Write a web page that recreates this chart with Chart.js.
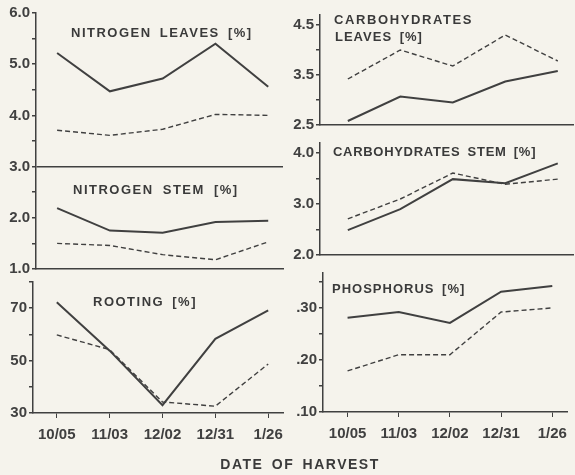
<!DOCTYPE html>
<html>
<head>
<meta charset="utf-8">
<script src="https://cdn.jsdelivr.net/npm/chart.js@4.4.1/dist/chart.umd.min.js"></script>
<style>
  html, body { margin: 0; padding: 0; background: #f5f3ec; }
  #page { position: relative; width: 575px; height: 475px; overflow: hidden; }
  #page canvas { position: absolute; left: 0; top: 0; }
  .lbl {
    position: absolute;
    font: bold 13px "Liberation Sans", Arial, sans-serif;
    line-height: 1;
    color: #3a3a3a;
    letter-spacing: 1px;
    word-spacing: 3px;
    white-space: nowrap;
  }
</style>
</head>
<body>
<div id="page">
  <canvas id="nitro" width="575" height="475"></canvas>
  <canvas id="root" width="575" height="475"></canvas>
  <canvas id="carbLeaf" width="575" height="475"></canvas>
  <canvas id="carbStem" width="575" height="475"></canvas>
  <canvas id="phos" width="575" height="475"></canvas>

  <div class="lbl" style="left:71px;top:26px;letter-spacing:1.5px">NITROGEN LEAVES [%]</div>
  <div class="lbl" style="left:73px;top:183px;letter-spacing:1.5px;word-spacing:4px">NITROGEN STEM [%]</div>
  <div class="lbl" style="left:93px;top:295px;letter-spacing:1.5px">ROOTING [%]</div>
  <div class="lbl" style="left:334px;top:13px;letter-spacing:1.6px">CARBOHYDRATES</div>
  <div class="lbl" style="left:335px;top:30px">LEAVES [%]</div>
  <div class="lbl" style="left:333px;top:145px;letter-spacing:0.7px">CARBOHYDRATES STEM [%]</div>
  <div class="lbl" style="left:332px;top:282px">PHOSPHORUS [%]</div>
  <div class="lbl" style="left:200px;top:457px;width:200px;text-align:center;font-size:14px;letter-spacing:1.5px">DATE OF HARVEST</div>
</div>

<script>
/* ============================================
   DATA
============================================ */
const dates = ['10/05', '11/03', '12/02', '12/31', '1/26'];

const nLeavesSolid  = [5.22, 4.47, 4.72, 5.40, 4.56];
const nLeavesDashed = [3.71, 3.61, 3.73, 4.02, 4.00];
const nStemSolid    = [2.19, 1.75, 1.71, 1.92, 1.94];
const nStemDashed   = [1.50, 1.46, 1.28, 1.18, 1.53];

const rootSolid  = [72.3, 53.8, 33.0, 58.3, 69.2];
const rootDashed = [59.8, 54.2, 34.2, 32.6, 48.7];

const carbLeafSolid  = [2.58, 3.07, 2.95, 3.37, 3.58];
const carbLeafDashed = [3.42, 4.00, 3.68, 4.30, 3.78];

const carbStemSolid  = [2.49, 2.90, 3.49, 3.41, 3.80];
const carbStemDashed = [2.71, 3.10, 3.61, 3.39, 3.49];

const phosSolid  = [0.281, 0.292, 0.271, 0.331, 0.342];
const phosDashed = [0.179, 0.210, 0.210, 0.292, 0.300];

const nitroTickLabels    = [1, 2, 3, 4, 5, 6];
const rootTickLabels     = [30, 50, 70];
const carbLeafTickLabels = [2.5, 3.5, 4.5];
const carbStemTickLabels = [2, 3, 4];
const phosTickLabels     = [0.1, 0.2, 0.3];

/* ============================================
   HELPERS
============================================ */
const INK = '#404040';
const FONT = "'Liberation Sans', Arial, sans-serif";

function solid(values) {
    return {
        data: values.map((v, i) => ({ x: i, y: v })),
        borderColor: INK,
        borderWidth: 2,
        pointRadius: 0,
        tension: 0
    };
}

function dashed(values) {
    return {
        data: values.map((v, i) => ({ x: i, y: v })),
        borderColor: INK,
        borderWidth: 1.4,
        borderDash: [5, 3],
        pointRadius: 0,
        tension: 0
    };
}

function hasLabel(list, v) {
    return list.some(t => Math.abs(t - v) < 1e-9);
}

// area: chart-area rect in page pixels, plus x range
function panel(id, area, datasets, y) {
    const axisW = 40;
    const dateH = area.dates ? 32 : 0;

    new Chart(document.getElementById(id), {
        type: 'line',
        data: { datasets },
        options: {
            responsive: false,
            animation: false,
            events: [],
            layout: {
                padding: {
                    left: area.left - axisW,
                    top: area.top,
                    right: 575 - area.right,
                    bottom: 475 - area.bottom - dateH
                }
            },
            plugins: { legend: { display: false }, tooltip: { enabled: false } },
            scales: {
                x: {
                    type: 'linear',
                    min: area.xMin,
                    max: area.xMax,
                    afterFit: s => { s.height = dateH; },
                    border: { color: INK, width: 1.5 },
                    grid: {
                        display: !!area.dates,
                        drawOnChartArea: false,
                        color: INK,
                        tickLength: 5
                    },
                    ticks: {
                        display: !!area.dates,
                        stepSize: 1,
                        includeBounds: false,
                        autoSkip: false,
                        maxRotation: 0,
                        padding: 8,
                        color: INK,
                        font: { family: FONT, size: 15, weight: 'bold' },
                        callback: v => dates[v] ?? ''
                    }
                },
                y: {
                    min: y.min,
                    max: y.max,
                    afterFit: s => { s.width = axisW; },
                    border: { color: INK, width: 1.5 },
                    grid: {
                        drawOnChartArea: !!y.rule,
                        color: c => (y.rule && c.tick && Math.abs(c.tick.value - y.rule) < 1e-9) ? INK : 'rgba(0,0,0,0)',
                        tickColor: INK,
                        lineWidth: 1.5,
                        tickLength: 4
                    },
                    ticks: {
                        stepSize: y.step,
                        includeBounds: false,
                        autoSkip: false,
                        padding: 2,
                        color: INK,
                        font: { family: FONT, size: 15, weight: 'bold' },
                        callback: v => hasLabel(y.labels, v) ? y.fmt(v) : ''
                    }
                }
            }
        }
    });
}

/* ============================================
   PANELS
============================================ */
panel('nitro',
    { left: 36, top: 13, right: 283, bottom: 269, xMin: -0.40, xMax: 4.28 },
    [solid(nLeavesSolid), dashed(nLeavesDashed), solid(nStemSolid), dashed(nStemDashed)],
    { min: 1, max: 6, step: 0.5, rule: 3, labels: nitroTickLabels, fmt: v => v.toFixed(1) });

panel('root',
    { left: 33, top: 282, right: 283, bottom: 413, xMin: -0.45, xMax: 4.28, dates: true },
    [solid(rootSolid), dashed(rootDashed)],
    { min: 30, max: 80, step: 10, labels: rootTickLabels, fmt: v => String(v) });

panel('carbLeaf',
    { left: 320, top: 15, right: 573, bottom: 125, xMin: -0.53, xMax: 4.29 },
    [solid(carbLeafSolid), dashed(carbLeafDashed)],
    { min: 2.5, max: 4.7, step: 0.5, labels: carbLeafTickLabels, fmt: v => v.toFixed(1) });

panel('carbStem',
    { left: 320, top: 143, right: 573, bottom: 255, xMin: -0.53, xMax: 4.29 },
    [solid(carbStemSolid), dashed(carbStemDashed)],
    { min: 2, max: 4.2, step: 0.5, labels: carbStemTickLabels, fmt: v => v.toFixed(1) });

panel('phos',
    { left: 323, top: 273, right: 573, bottom: 412, xMin: -0.48, xMax: 4.29, dates: true },
    [solid(phosSolid), dashed(phosDashed)],
    { min: 0.1, max: 0.367, step: 0.05, labels: phosTickLabels, fmt: v => v.toFixed(2).replace(/^0/, '') });
</script>
</body>
</html>
